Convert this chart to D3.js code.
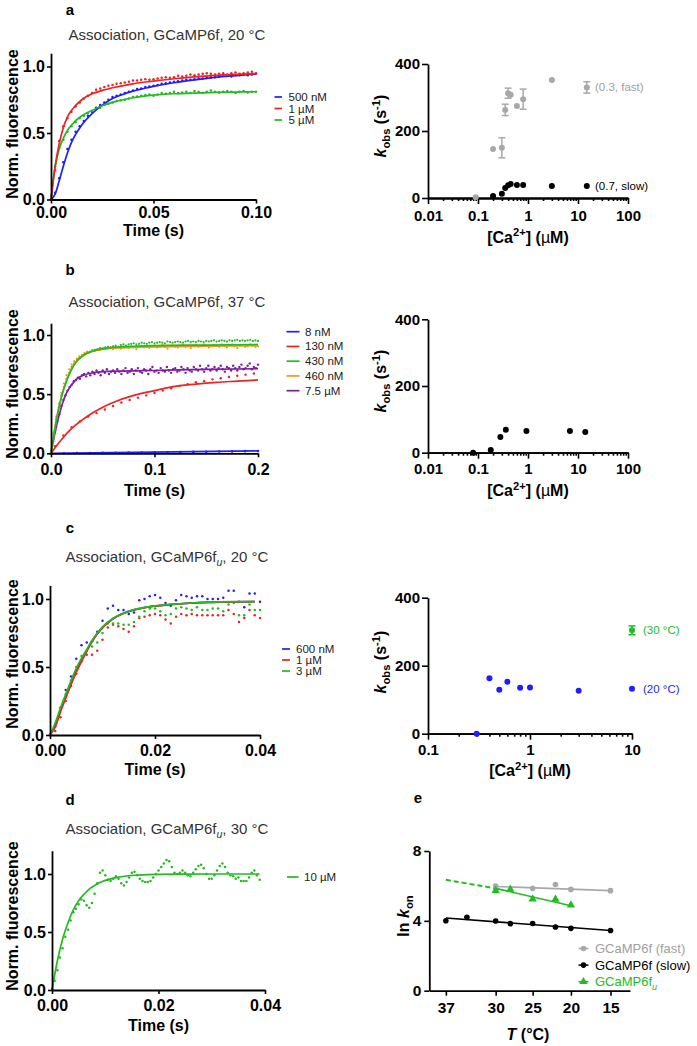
<!DOCTYPE html>
<html><head><meta charset="utf-8">
<script src="https://cdn.jsdelivr.net/npm/d3@7/dist/d3.min.js"></script>
<style>html,body{margin:0;padding:0;background:#fff}svg{display:block}</style>
</head><body>
<svg id="fig" width="697" height="1046"></svg>
<script>
// ===================== DATA =====================
// ---- Panel a: GCaMP6f, 20 °C (dots every 2 ms from t=0)
const aDotStep = 0.002;
const aDotsBlue = [0,0.05,0.16,0.28,0.38,0.45,0.51,0.55,0.59,0.63,
 0.66,0.69,0.71,0.73,0.75,0.77,0.78,0.79,0.80,0.81,
 0.82,0.83,0.835,0.845,0.85,0.855,0.86,0.87,0.875,0.88,
 0.885,0.89,0.895,0.90,0.90,0.905,0.91,0.91,0.915,0.92,
 0.92,0.925,0.93,0.93,0.925,0.935,0.935,0.94,0.935,0.94,0.945];
const aDotsRed = [0,0.22,0.44,0.55,0.61,0.66,0.70,0.73,0.76,0.78,
 0.80,0.825,0.835,0.845,0.855,0.86,0.87,0.875,0.88,0.885,
 0.895,0.895,0.90,0.905,0.90,0.905,0.91,0.915,0.92,0.915,
 0.92,0.93,0.925,0.93,0.94,0.935,0.94,0.945,0.95,0.945,
 0.94,0.945,0.95,0.94,0.95,0.955,0.945,0.95,0.955,0.96,0.95];
const aDotsGreen = [0,0.25,0.39,0.45,0.51,0.55,0.58,0.61,0.63,0.65,
 0.665,0.68,0.69,0.71,0.72,0.73,0.74,0.745,0.75,0.76,
 0.77,0.775,0.78,0.785,0.79,0.78,0.79,0.80,0.795,0.80,
 0.81,0.80,0.805,0.81,0.80,0.815,0.81,0.80,0.81,0.82,
 0.81,0.805,0.81,0.815,0.81,0.80,0.81,0.815,0.805,0.81,0.81];
const aFitBlue = [[0,0],[0.002,0.04],[0.004,0.14],[0.006,0.25],[0.008,0.35],[0.01,0.43],[0.015,0.56],[0.02,0.645],[0.025,0.71],[0.03,0.76],[0.035,0.79],[0.04,0.815],[0.05,0.85],[0.06,0.878],[0.07,0.9],[0.08,0.918],[0.09,0.932],[0.1,0.945]];
const aFitRed = [[0,0],[0.002,0.25],[0.004,0.42],[0.006,0.54],[0.008,0.62],[0.01,0.67],[0.015,0.75],[0.02,0.795],[0.025,0.82],[0.03,0.84],[0.04,0.87],[0.05,0.89],[0.06,0.908],[0.07,0.922],[0.08,0.933],[0.09,0.941],[0.1,0.947]];
const aFitGreen = [[0,0],[0.002,0.24],[0.004,0.38],[0.006,0.46],[0.008,0.52],[0.01,0.56],[0.015,0.63],[0.02,0.67],[0.025,0.705],[0.03,0.73],[0.04,0.765],[0.05,0.785],[0.06,0.795],[0.07,0.80],[0.08,0.805],[0.09,0.808],[0.1,0.81]];
const aLegend = ["500 nM","1 µM","5 µM"];
const aXTicks = [0,0.05,0.1];

// ---- Panel b: GCaMP6f, 37 °C
const bBlueStep = 0.0125;
const bDotsBlue = [0,0.001,0.002,0.003,0.004,0.005,0.006,0.007,0.008,0.009,0.01,0.012,0.013,0.015,0.016,0.018,0.02];
const bRedStart = 0.004, bRedStep = 0.008;
const bDotsRed = [0.06,0.15,0.22,0.27,0.31,0.34,0.37,0.40,0.43,0.45,0.47,0.49,0.51,0.53,0.55,0.57,0.585,0.60,0.61,0.625,0.635,0.645,0.655,0.665,0.675];
const bGOStep = 0.0025;
const bDotsGreen = [0,0.16,0.29,0.39,0.49,0.56,0.63,0.68,0.73,0.76,
 0.79,0.81,0.83,0.84,0.855,0.86,0.87,0.875,0.88,0.89,
 0.885,0.895,0.90,0.895,0.905,0.91,0.90,0.915,0.92,0.91,
 0.92,0.925,0.93,0.92,0.925,0.935,0.93,0.925,0.935,0.94,
 0.93,0.935,0.94,0.935,0.93,0.945,0.94,0.935,0.94,0.945,
 0.94,0.935,0.945,0.95,0.94,0.945,0.94,0.95,0.945,0.94,
 0.95,0.945,0.95,0.955,0.945,0.95,0.955,0.95,0.945,0.955,
 0.95,0.955,0.96,0.95,0.955,0.95,0.955,0.96,0.95,0.955,0.95];
const bDotsOrange = [0,0.17,0.31,0.42,0.51,0.59,0.66,0.71,0.75,0.78,
 0.80,0.82,0.83,0.85,0.86,0.855,0.87,0.865,0.88,0.875,
 0.89,0.88,0.885,0.895,0.88,0.89,0.90,0.885,0.895,0.90,
 0.89,0.905,0.895,0.88,0.90,0.91,0.895,0.90,0.89,0.905,
 0.91,0.895,0.90,0.915,0.90,0.885,0.905,0.91,0.90,0.895,
 0.91,0.915,0.90,0.905,0.89,0.91,0.915,0.90,0.905,0.92,
 0.91,0.895,0.905,0.915,0.91,0.90,0.92,0.905,0.895,0.91,
 0.92,0.905,0.89,0.91,0.915,0.90,0.905,0.92,0.91,0.90,0.905];
const bPurpleStep = 0.002;
const bDotsPurple = [0,0.10,0.19,0.27,0.33,0.40,0.45,0.49,0.53,0.56,
 0.58,0.61,0.62,0.64,0.63,0.66,0.67,0.65,0.68,0.66,
 0.69,0.67,0.70,0.68,0.66,0.70,0.68,0.71,0.67,0.69,
 0.70,0.68,0.71,0.69,0.67,0.70,0.72,0.68,0.69,0.71,
 0.67,0.70,0.72,0.69,0.68,0.71,0.70,0.67,0.71,0.73,
 0.69,0.70,0.68,0.72,0.70,0.69,0.73,0.70,0.68,0.71,
 0.72,0.69,0.70,0.73,0.71,0.68,0.72,0.70,0.69,0.73,
 0.71,0.70,0.74,0.71,0.69,0.72,0.74,0.70,0.71,0.73,
 0.70,0.72,0.74,0.71,0.69,0.73,0.72,0.70,0.74,0.72,
 0.70,0.73,0.75,0.71,0.72,0.74,0.76,0.71,0.73,0.72,0.75];
const bFitBlue = [[0,0],[0.2,0.02]];
const bFitRed = [[0,0],[0.01,0.115],[0.02,0.21],[0.03,0.28],[0.04,0.34],[0.05,0.39],[0.06,0.43],[0.08,0.49],[0.1,0.53],[0.12,0.565],[0.14,0.585],[0.16,0.60],[0.18,0.61],[0.2,0.62]];
const bFitGreen = [[0,0],[0.005,0.27],[0.01,0.47],[0.015,0.61],[0.02,0.71],[0.025,0.78],[0.03,0.82],[0.04,0.865],[0.05,0.885],[0.06,0.895],[0.08,0.905],[0.1,0.91],[0.15,0.915],[0.2,0.92]];
const bFitOrange = [[0,0],[0.005,0.28],[0.01,0.48],[0.015,0.62],[0.02,0.72],[0.025,0.78],[0.03,0.82],[0.04,0.86],[0.05,0.88],[0.06,0.89],[0.08,0.895],[0.1,0.90],[0.15,0.905],[0.2,0.91]];
const bFitPurple = [[0,0],[0.005,0.22],[0.01,0.39],[0.015,0.51],[0.02,0.58],[0.025,0.63],[0.03,0.655],[0.04,0.68],[0.05,0.69],[0.07,0.695],[0.1,0.70],[0.15,0.71],[0.2,0.715]];
const bLegend = ["8 nM","130 nM","430 nM","460 nM","7.5 µM"];
const bXTicks = [0,0.1,0.2];

// ---- Panel c: GCaMP6fu, 20 °C (dots every 1 ms)
const cDotStep = 0.001;
const cDotsBlue = [0,0.06,0.20,0.33,0.43,0.56,0.66,0.68,0.69,0.76,
 0.84,0.93,0.95,0.92,0.92,0.89,0.90,0.99,1.00,1.02,
 1.03,1.01,0.97,0.95,0.99,1.03,1.02,1.01,1.02,1.02,
 1.00,1.00,1.00,1.01,1.06,1.06,0.98,0.94,1.04,1.04,0.98];
const cDotsRed = [0,0.03,0.13,0.25,0.36,0.45,0.54,0.59,0.59,0.62,
 0.70,0.79,0.81,0.80,0.78,0.76,0.80,0.86,0.87,0.88,
 0.89,0.88,0.85,0.82,0.87,0.89,0.88,0.89,0.88,0.88,
 0.88,0.88,0.88,0.88,0.92,0.89,0.83,0.86,0.92,0.88,0.86];
const cDotsGreen = [0,0.08,0.20,0.30,0.40,0.50,0.58,0.62,0.65,0.68,
 0.75,0.82,0.82,0.82,0.81,0.81,0.83,0.87,0.91,0.93,
 0.93,0.91,0.88,0.89,0.93,0.94,0.93,0.92,0.94,0.92,
 0.92,0.93,0.93,0.91,0.96,0.97,0.88,0.88,0.96,0.92,0.92];
const cFitBlue = [[0,0],[0.001,0.07],[0.002,0.18],[0.003,0.28],[0.004,0.38],[0.005,0.47],[0.006,0.55],[0.007,0.62],[0.008,0.69],[0.009,0.745],[0.01,0.79],[0.012,0.855],[0.014,0.895],[0.016,0.92],[0.018,0.937],[0.02,0.948],[0.025,0.965],[0.03,0.975],[0.035,0.979],[0.039,0.98]];
const cFitRed = [[0,0],[0.001,0.06],[0.002,0.17],[0.003,0.27],[0.004,0.37],[0.005,0.46],[0.006,0.54],[0.007,0.615],[0.008,0.685],[0.009,0.742],[0.01,0.788],[0.012,0.854],[0.014,0.894],[0.016,0.92],[0.018,0.937],[0.02,0.948],[0.025,0.965],[0.03,0.975],[0.035,0.979],[0.039,0.98]];
const cFitGreen = [[0,0],[0.001,0.09],[0.002,0.2],[0.003,0.3],[0.004,0.4],[0.005,0.49],[0.006,0.565],[0.007,0.63],[0.008,0.695],[0.009,0.75],[0.01,0.795],[0.012,0.858],[0.014,0.897],[0.016,0.922],[0.018,0.938],[0.02,0.95],[0.025,0.966],[0.03,0.976],[0.035,0.98],[0.039,0.981]];
const cLegend = ["600 nM","1 µM","3 µM"];
const cdXTicks = [0,0.02,0.04];

// ---- Panel d: GCaMP6fu, 30 °C (dots every 0.5 ms)
const dDotStep = 0.0005;
const dDotsGreen = [0.01,0.08,0.17,0.28,0.36,0.46,0.52,0.60,0.67,0.70,
 0.74,0.78,0.77,0.73,0.71,0.75,0.83,0.92,1.01,1.03,
 0.99,0.95,0.94,0.96,0.98,0.96,0.92,0.90,0.93,0.97,
 1.01,1.02,0.99,0.96,0.94,0.93,0.93,0.94,0.97,1.00,
 1.03,1.06,1.09,1.12,1.11,1.06,1.01,1.00,1.01,1.03,
 1.01,0.99,0.98,1.01,1.04,1.07,1.08,1.05,1.00,0.96,
 0.96,0.99,1.03,1.07,1.09,1.06,1.01,0.99,0.98,0.96,
 0.97,0.94,0.94,0.94,0.97,1.01,1.03,0.99,0.95];
const dFitGreen = [[0,0],[0.001,0.25],[0.002,0.44],[0.003,0.58],[0.004,0.69],[0.005,0.77],[0.006,0.825],[0.007,0.87],[0.008,0.90],[0.009,0.926],[0.01,0.945],[0.012,0.969],[0.014,0.983],[0.016,0.99],[0.02,0.997],[0.025,0.999],[0.03,1.0],[0.039,1.0]];
const dLegend = ["10 µM"];

const normYTicks = [0,0.5,1];

// ---- Right panels: k_obs vs [Ca2+]
const logTicks = [0.01,0.1,1,10,100];
const logTicksC = [0.1,1,10];
const kTicks = [0,200,400];
const aFastCa = [0.09,0.2,0.3,0.35,0.4,0.45,0.6,0.8,3];
const aFastK  = [2,146,150,263,313,308,275,295,352];
const aFastErr= [0,0,30,17,15,0,0,30,0];
const aSlowCa = [0.2,0.3,0.35,0.4,0.45,0.6,0.8,3];
const aSlowK  = [6,13,30,38,42,39,39,36];
const aFastMean = {ca:15, k:330, err:17, label:"(0.3, fast)"};
const aSlowMean = {ca:15, k:36, err:0, label:"(0.7, slow)"};
const bCa = [0.08,0.18,0.28,0.36,0.93,6.9,14];
const bK  = [0,8,47,69,65,65,62];
const cCa = [0.3,0.4,0.5,0.6,0.8,1,3];
const cK  = [0,163,129,153,135,136,126];
const c20Mean = {ca:10, k:132, err:0, label:"(20 °C)"};
const c30Mean = {ca:10, k:304, err:13, label:"(30 °C)"};

// ---- Panel e: ln k_on vs T
const eTTicks = [37,30,25,20,15];
const eYTicks = [0,4,8];
const eFastT = [30,25,22,20,15];
const eFastLn = [6.0,5.86,6.08,5.8,5.73];
const eFastFit = [[30,5.97],[15,5.73]];
const eSlowT = [37,34,30,28,25,22,20,15];
const eSlowLn = [4.01,4.2,3.99,3.84,3.85,3.65,3.57,3.45];
const eSlowFit = [[37,4.16],[15,3.45]];
const eUT = [30,28,25,22,20];
const eULn = [5.73,5.8,5.25,5.23,4.9];
const eUFit = [[30,5.86],[20,4.87]];
const eUFitExt = [[37,6.35],[30,5.86]];

// ===================== DRAWING =====================
const COL = {blue:"#1e1eff", red:"#ee2222", green:"#22bb22", orange:"#f7941d", purple:"#7e1f9e", gray:"#a8a8a8", black:"#000"};
const FONT = '"Liberation Sans", Arial, Helvetica, sans-serif';
const svg = d3.select("#fig").attr("font-family", FONT);

function rich(parent, x, y, parts, o){
  const t = parent.append("text").attr("x",x).attr("y",y)
    .attr("font-size",o.size).attr("font-weight",o.weight||"normal")
    .attr("fill",o.fill||"#000").attr("text-anchor",o.anchor||"start");
  if(o.rotate) t.attr("transform",`rotate(-90,${x},${y})`);
  let shift = 0;
  parts.forEach(p=>{
    const s = (typeof p === "string") ? {t:p} : p;
    const target = s.sub ? o.size*0.28 : (s.sup ? -o.size*0.4 : 0);
    const ts = t.append("tspan").text(s.t).attr("dy", target-shift);
    shift = target;
    if(s.sub||s.sup) ts.attr("font-size", o.size*0.7);
    if(s.i) ts.attr("font-style","italic");
    if(s.w) ts.attr("font-weight", s.w);
    if(s.fill) ts.attr("fill", s.fill);
  });
  return t;
}

function styleAxis(g, fs){
  g.attr("font-family", FONT).attr("font-size", fs);
  g.select(".domain").attr("stroke","#000").attr("stroke-width",1.8);
  g.selectAll(".tick line").attr("stroke","#000").attr("stroke-width",1.6);
  g.selectAll(".tick text").attr("fill","#000").attr("font-weight","bold");
}

function tracePanel(p){
  const g = svg.append("g");
  const x = d3.scaleLinear().domain(p.xDom).range(p.xR);
  const y = d3.scaleLinear().domain([0,p.yTop]).range([p.y0, p.y0 - p.yUnit*p.yTop]);
  p.dots.forEach(s=>{
    g.append("g").selectAll("circle").data(s.v).join("circle")
      .attr("cx",(d,i)=>x(s.t0 + i*s.dt)).attr("cy",d=>y(d))
      .attr("r", s.r || 1.25).attr("fill", s.c);
  });
  const line = d3.line().x(d=>x(d[0])).y(d=>y(d[1])).curve(d3.curveMonotoneX);
  p.fits.forEach(f=>{
    g.append("path").attr("d",line(f.v)).attr("fill","none")
      .attr("stroke",f.c).attr("stroke-width",1.7);
  });
  const xa = g.append("g").attr("transform",`translate(0,${p.y0})`)
    .call(d3.axisBottom(x).tickValues(p.xTicks).tickFormat(d3.format(p.xFmt))
      .tickSize(4).tickSizeOuter(0).tickPadding(p.xPad));
  styleAxis(xa, 16);
  const ya = g.append("g").attr("transform",`translate(${p.xR[0]},0)`)
    .call(d3.axisLeft(y).tickValues(normYTicks).tickFormat(d3.format(".1f"))
      .tickSize(4).tickSizeOuter(0).tickPadding(2));
  styleAxis(ya, 16);
  g.append("text").attr("x",(p.xR[0]+p.xR[1])/2).attr("y",p.timeY).attr("dy","0.35em")
    .attr("text-anchor","middle").attr("font-size",16).attr("font-weight","bold").text("Time (s)");
  rich(g, 17.5, p.yLabY, ["Norm. fluorescence"], {size:16, weight:"bold", anchor:"middle", rotate:true});
  rich(g, 167, p.titleY, p.title, {size:15, fill:"#333", anchor:"middle"});
  g.append("text").attr("x",70).attr("y",p.letterY).attr("text-anchor","middle")
    .attr("font-size",15).attr("font-weight","bold").text(p.letter);
  p.legend.forEach((lab,i)=>{
    const yy = p.leg.y0 + i*p.leg.dy;
    g.append("line").attr("x1",p.leg.x1).attr("x2",p.leg.x2).attr("y1",yy).attr("y2",yy)
      .attr("stroke",p.legCols[i]).attr("stroke-width",1.7);
    g.append("text").attr("x",p.leg.tx).attr("y",yy).attr("dy","0.35em")
      .attr("font-size",11.5).attr("fill","#222").text(lab);
  });
}

const titleU = (temp)=>["Association, GCaMP6f", {t:"u", sub:true, i:true}, ", " + temp];

tracePanel({letter:"a", letterY:15, title:["Association, GCaMP6f, 20 °C"], titleY:40,
  xDom:[0,0.1], xR:[51,256], y0:199.5, yUnit:133, yTop:1.1, xTicks:aXTicks, xFmt:".2f", xPad:3.5,
  timeY:230, yLabY:124,
  dots:[{v:aDotsBlue,t0:0,dt:aDotStep,c:COL.blue},{v:aDotsGreen,t0:0,dt:aDotStep,c:COL.green},{v:aDotsRed,t0:0,dt:aDotStep,c:COL.red}],
  fits:[{v:aFitBlue,c:COL.blue},{v:aFitGreen,c:COL.green},{v:aFitRed,c:COL.red}],
  legend:aLegend, legCols:[COL.blue,COL.red,COL.green], leg:{x1:274.5,x2:282,tx:288.5,y0:97,dy:11.5}});

tracePanel({letter:"b", letterY:275, title:["Association, GCaMP6f, 37 °C"], titleY:306.5,
  xDom:[0,0.2], xR:[51,258], y0:453.3, yUnit:118.3, yTop:1.1, xTicks:bXTicks, xFmt:".1f", xPad:6.5,
  timeY:490, yLabY:384,
  dots:[{v:bDotsBlue,t0:0,dt:bBlueStep,c:COL.blue,r:1.3},{v:bDotsRed,t0:bRedStart,dt:bRedStep,c:COL.red,r:1.2},
        {v:bDotsGreen,t0:0,dt:bGOStep,c:COL.green,r:1.1},{v:bDotsOrange,t0:0,dt:bGOStep,c:COL.orange,r:1.1},
        {v:bDotsPurple,t0:0,dt:bPurpleStep,c:COL.purple,r:1.2}],
  fits:[{v:bFitBlue,c:COL.blue},{v:bFitRed,c:COL.red},{v:bFitPurple,c:COL.purple},{v:bFitOrange,c:COL.orange},{v:bFitGreen,c:COL.green}],
  legend:bLegend, legCols:[COL.blue,COL.red,COL.green,COL.orange,COL.purple], leg:{x1:286.5,x2:299.5,tx:305,y0:331.7,dy:14.75}});

tracePanel({letter:"c", letterY:533, title:titleU("20 °C"), titleY:561.5,
  xDom:[0,0.04], xR:[50,260], y0:735, yUnit:136, yTop:1.1, xTicks:cdXTicks, xFmt:".2f", xPad:5.5,
  timeY:769, yLabY:654,
  dots:[{v:cDotsBlue,t0:0,dt:cDotStep,c:COL.blue},{v:cDotsRed,t0:0,dt:cDotStep,c:COL.red},{v:cDotsGreen,t0:0,dt:cDotStep,c:COL.green}],
  fits:[{v:cFitBlue,c:COL.blue},{v:cFitRed,c:COL.red},{v:cFitGreen,c:COL.green}],
  legend:cLegend, legCols:[COL.blue,COL.red,COL.green], leg:{x1:282,x2:290,tx:296,y0:649,dy:11}});

tracePanel({letter:"d", letterY:805, title:titleU("30 °C"), titleY:834,
  xDom:[0,0.04], xR:[52,265], y0:990, yUnit:116, yTop:1.2, xTicks:cdXTicks, xFmt:".2f", xPad:6,
  timeY:1025, yLabY:916,
  dots:[{v:dDotsGreen,t0:0,dt:dDotStep,c:COL.green}],
  fits:[{v:dFitGreen,c:COL.green}],
  legend:dLegend, legCols:[COL.green], leg:{x1:287,x2:298.5,tx:304,y0:877,dy:12}});

// ---------- right k_obs panels ----------
function kobsPanel(p){
  const g = svg.append("g");
  const x = d3.scaleLog().domain(p.xDom).range(p.xR);
  const y = d3.scaleLinear().domain([0,400]).range([p.y0, p.yTop]);
  const minors = [];
  for(let e = Math.round(Math.log10(p.xDom[0])); e < Math.round(Math.log10(p.xDom[1])); e++){
    for(let m = 2; m <= 9; m++) minors.push(m*Math.pow(10,e));
  }
  const xm = g.append("g").attr("transform",`translate(0,${p.y0})`)
    .call(d3.axisBottom(x).tickValues(minors).tickFormat("").tickSize(3).tickSizeOuter(0));
  styleAxis(xm, 15);
  const xa = g.append("g").attr("transform",`translate(0,${p.y0})`)
    .call(d3.axisBottom(x).tickValues(p.ticks).tickFormat(d3.format("~g")).tickSize(6).tickSizeOuter(0).tickPadding(p.xPad));
  styleAxis(xa, 15);
  const ya = g.append("g").attr("transform",`translate(${p.xR[0]},0)`)
    .call(d3.axisLeft(y).tickValues(kTicks).tickSize(6).tickSizeOuter(0).tickPadding(2));
  styleAxis(ya, 15);
  const errBar = (cx, k, e, c)=>{
    g.append("line").attr("x1",cx).attr("x2",cx).attr("y1",y(k-e)).attr("y2",y(k+e)).attr("stroke",c).attr("stroke-width",1.5);
    [k-e, k+e].forEach(v=>g.append("line").attr("x1",cx-3.5).attr("x2",cx+3.5).attr("y1",y(v)).attr("y2",y(v)).attr("stroke",c).attr("stroke-width",1.5));
  };
  p.series.forEach(s=>{
    s.ca.forEach((c,i)=>{ const e = s.err ? s.err[i] : 0; if(e>0) errBar(x(c), s.k[i], e, s.c); });
    g.append("g").selectAll("circle").data(s.ca).join("circle")
      .attr("cx",d=>x(d)).attr("cy",(d,i)=>y(s.k[i])).attr("r",3).attr("fill",s.c);
  });
  (p.means||[]).forEach(m=>{
    const cx = x(m.d.ca);
    if(m.d.err>0) errBar(cx, m.d.k, m.d.err, m.c);
    g.append("circle").attr("cx",cx).attr("cy",y(m.d.k)).attr("r",3).attr("fill",m.c);
    g.append("text").attr("x",p.annX).attr("y",y(m.d.k)).attr("dy","0.35em")
      .attr("font-size",11.5).attr("fill",m.tc||m.c).text(m.d.label);
  });
  rich(g, 386, p.yLabY, [{t:"k",i:true},{t:"obs",sub:true}," (s",{t:"-1",sup:true},")"], {size:16, weight:"bold", anchor:"middle", rotate:true});
  rich(g, p.xLabX, p.xLabY, ["[Ca",{t:"2+",sup:true},"] (",{t:"µ",w:"normal"},"M)"], {size:16, weight:"bold", anchor:"middle"});
}

kobsPanel({xDom:[0.01,100], xR:[428,628], y0:198, yTop:64, ticks:logTicks, xPad:6,
  yLabY:126, xLabX:528, xLabY:242.5, annX:595,
  series:[{ca:aFastCa,k:aFastK,err:aFastErr,c:COL.gray},{ca:aSlowCa,k:aSlowK,c:COL.black}],
  means:[{d:aFastMean,c:COL.gray,tc:"#a0a0a0"},{d:aSlowMean,c:COL.black}]});

kobsPanel({xDom:[0.01,100], xR:[428,628], y0:452.7, yTop:319.3, ticks:logTicks, xPad:5,
  yLabY:381, xLabX:528, xLabY:496, annX:595,
  series:[{ca:bCa,k:bK,c:COL.black}], means:[]});

kobsPanel({xDom:[0.1,10], xR:[428,632], y0:733.7, yTop:597.7, ticks:logTicksC, xPad:4.5,
  yLabY:662, xLabX:530, xLabY:776, annX:643,
  series:[{ca:cCa,k:cK,c:COL.blue}],
  means:[{d:c30Mean,c:COL.green},{d:c20Mean,c:COL.blue}]});

// ---------- panel e ----------
(function(){
  const g = svg.append("g");
  const invT = t => 1/(t+273.15);
  const xs = d3.scaleLinear().domain([invT(39.4), invT(12.6)]).range([429.3,630]);
  const X = t => xs(invT(t));
  const y = d3.scaleLinear().domain([0,8]).range([990.7,851]);
  const xa = g.append("g").attr("transform","translate(0,990.7)")
    .call(d3.axisBottom(xs).tickValues(eTTicks.map(invT)).tickFormat((d,i)=>eTTicks[i]).tickSize(5).tickSizeOuter(0).tickPadding(6));
  styleAxis(xa, 15.5);
  const ya = g.append("g").attr("transform","translate(429.3,0)")
    .call(d3.axisLeft(y).tickValues(eYTicks).tickSize(5).tickSizeOuter(0).tickPadding(3));
  styleAxis(ya, 15.5);
  const line = d3.line().x(d=>X(d[0])).y(d=>y(d[1]));
  g.append("path").attr("d",line(eUFitExt)).attr("fill","none").attr("stroke",COL.green).attr("stroke-width",2).attr("stroke-dasharray","5,3");
  g.append("path").attr("d",line(eFastFit)).attr("fill","none").attr("stroke",COL.gray).attr("stroke-width",1.6);
  g.append("path").attr("d",line(eSlowFit)).attr("fill","none").attr("stroke",COL.black).attr("stroke-width",1.6);
  g.append("path").attr("d",line(eUFit)).attr("fill","none").attr("stroke",COL.green).attr("stroke-width",1.6);
  g.append("g").selectAll("circle").data(eFastT).join("circle").attr("cx",d=>X(d)).attr("cy",(d,i)=>y(eFastLn[i])).attr("r",2.8).attr("fill",COL.gray);
  g.append("g").selectAll("circle").data(eSlowT).join("circle").attr("cx",d=>X(d)).attr("cy",(d,i)=>y(eSlowLn[i])).attr("r",2.8).attr("fill",COL.black);
  const tri = d3.symbol().type(d3.symbolTriangle).size(30);
  g.append("g").selectAll("path").data(eUT).join("path").attr("d",tri)
    .attr("transform",(d,i)=>`translate(${X(d)},${y(eULn[i])})`).attr("fill",COL.green);
  const legE = [{lab:["GCaMP6f (fast)"],c:COL.gray,tc:"#a0a0a0",sym:"c"},{lab:["GCaMP6f (slow)"],c:COL.black,tc:"#000",sym:"c"},{lab:["GCaMP6f",{t:"u",sub:true,i:true}],c:COL.green,tc:COL.green,sym:"t"}];
  legE.forEach((L,i)=>{
    const yy = 948.5 + i*16.6;
    g.append("line").attr("x1",578.5).attr("x2",588.5).attr("y1",yy).attr("y2",yy).attr("stroke",L.c).attr("stroke-width",1.5);
    if(L.sym==="c") g.append("circle").attr("cx",583.5).attr("cy",yy).attr("r",2.8).attr("fill",L.c);
    else g.append("path").attr("d",tri).attr("transform",`translate(583.5,${yy})`).attr("fill",L.c);
    rich(g, 595, yy+4.6, L.lab, {size:13, fill:L.tc});
  });
  rich(g, 528, 1040, [{t:"T",i:true}," (°C)"], {size:16, weight:"bold", anchor:"middle"});
  rich(g, 409, 916, ["ln ",{t:"k",i:true},{t:"on",sub:true}], {size:16, weight:"bold", anchor:"middle", rotate:true});
  g.append("text").attr("x",418).attr("y",803).attr("text-anchor","middle").attr("font-size",15).attr("font-weight","bold").text("e");
})();
</script>
</body></html>
